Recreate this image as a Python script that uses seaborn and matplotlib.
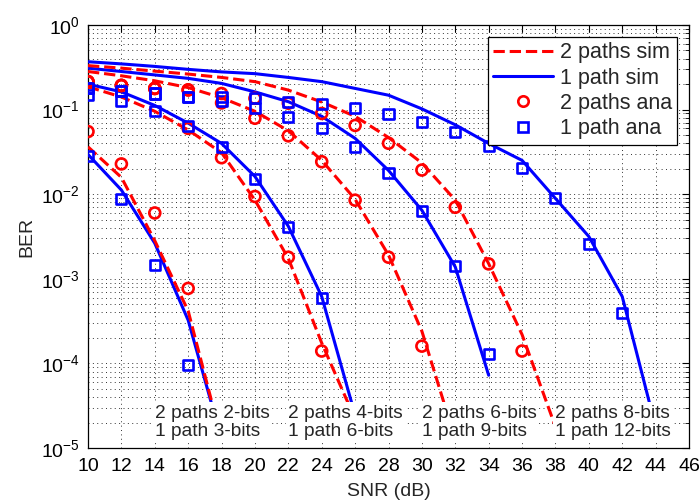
import numpy as np
import pandas as pd
import matplotlib
matplotlib.use("Agg")
import matplotlib.pyplot as plt
import matplotlib.transforms as mtransforms
from matplotlib.lines import Line2D
from matplotlib.ticker import LogLocator, NullFormatter
import seaborn as sns

# ---------------- data ----------------
snr = [10, 12, 14, 16, 18, 20, 22, 24, 26, 28, 30, 32, 34, 36, 38, 40, 42, 44]

# simulated curves (lines)
sim_2p_2bit = [0.0363, 0.0158, 0.00282, 4.17e-4, 1.26e-5]
sim_1p_3bit = [0.0295, 0.0112, 0.00263, 3.24e-4, 1.26e-5]
sim_2p_4bit = [0.186, 0.141, 0.0955, 0.0575, 0.0309, 0.00851, 0.00174, 1.74e-4, 2.2e-5]
sim_1p_6bit = [0.200, 0.162, 0.112, 0.0692, 0.0398, 0.0162, 0.00417, 6.17e-4, 2.45e-5]
sim_2p_6bit = [0.282, 0.251, 0.219, 0.182, 0.138, 0.0955, 0.0562, 0.0251, 0.00871,
               0.00191, 2.40e-4, 1.26e-5]
sim_1p_9bit = [0.309, 0.282, 0.257, 0.234, 0.204, 0.162, 0.124, 0.0832, 0.0457,
               0.0191, 0.00646, 0.00138, 7.24e-5]
sim_2p_8bit = [0.331, 0.309, 0.285, 0.263, 0.240, 0.214, 0.170, 0.123, 0.0832,
               0.0468, 0.0234, 0.00851, 0.00151, 2.19e-4, 1.78e-5]
sim_1p_12bit = [0.368, 0.347, 0.324, 0.299, 0.279, 0.266, 0.240, 0.214, 0.178,
                0.148, 0.102, 0.0661, 0.0398, 0.0251, 0.00891, 0.00316, 6.17e-4, 1.78e-5]

# analytical results (markers)
ana_2p_2bit = [0.055, 0.0228, 0.0060, 7.7e-4]
ana_1p_3bit = [0.0283, 0.0087, 0.00145, 9.7e-5]
ana_2p_4bit = [0.214, 0.193, 0.178, 0.060, 0.027, 0.0094, 0.0018, 1.4e-4]
ana_1p_6bit = [0.150, 0.128, 0.096, 0.064, 0.0360, 0.0150, 0.0041, 5.9e-4]
ana_2p_6bit = [0.214, 0.193, 0.178, 0.171, 0.120, 0.079, 0.049, 0.0242, 0.0085,
               0.0018, 1.6e-4]
ana_1p_9bit = [0.178, 0.166, 0.155, 0.142, 0.125, 0.104, 0.082, 0.060, 0.0365,
               0.018, 0.0064, 0.0014, 1.3e-4]
ana_2p_8bit = [0.214, 0.193, 0.178, 0.171, 0.155, 0.136, 0.119, 0.090, 0.065,
               0.040, 0.0193, 0.0070, 0.0015, 1.4e-4]
ana_1p_12bit = [0.178, 0.166, 0.155, 0.142, 0.140, 0.136, 0.124, 0.115, 0.104,
                0.088, 0.072, 0.054, 0.037, 0.0206, 0.0091, 0.0026, 3.9e-4]

legend_labels = ["2 paths sim", "1 path sim", "2 paths ana", "1 path ana"]
group_texts = ["2 paths 2-bits\n1 path 3-bits", "2 paths 4-bits\n1 path 6-bits",
               "2 paths 6-bits\n1 path 9-bits", "2 paths 8-bits\n1 path 12-bits"]
group_text_x = [14, 22, 30, 38]
xticks = list(range(10, 47, 2))

# ---------------- style ----------------
sns.set_style("white")
plt.rcParams["font.family"] = ["Liberation Sans", "DejaVu Sans"]
plt.rcParams["mathtext.fontset"] = "custom"
plt.rcParams["mathtext.rm"] = "Liberation Sans"
plt.rcParams["mathtext.it"] = "Liberation Sans:italic"

RED = "#ff0000"
BLUE = "#0000ff"

fig = plt.figure(figsize=(6.99, 5.0), dpi=100)
ax = fig.add_axes([0.1259, 0.104, 0.8598, 0.846])

sims_red = [sim_2p_2bit, sim_2p_4bit, sim_2p_6bit, sim_2p_8bit]
sims_blue = [sim_1p_3bit, sim_1p_6bit, sim_1p_9bit, sim_1p_12bit]
anas_red = [ana_2p_2bit, ana_2p_4bit, ana_2p_6bit, ana_2p_8bit]
anas_blue = [ana_1p_3bit, ana_1p_6bit, ana_1p_9bit, ana_1p_12bit]

for r, b in zip(sims_red, sims_blue):
    sns.lineplot(x=snr[:len(b)], y=b, color=BLUE, linewidth=2.2,
                 estimator=None, ax=ax, zorder=3)
    sns.lineplot(x=snr[:len(r)], y=r, color=RED, linewidth=2.2, linestyle="--",
                 dashes=False, estimator=None, ax=ax, zorder=3)

for r, b in zip(anas_red, anas_blue):
    sns.scatterplot(x=snr[:len(r)], y=r, marker="o", s=62, facecolor="none",
                    edgecolor=RED, linewidth=1.9, ax=ax, zorder=4)
    sns.scatterplot(x=snr[:len(b)], y=b, marker="s", s=52, facecolor="none",
                    edgecolor=BLUE, linewidth=1.9, ax=ax, zorder=4)

ax.set_yscale("log")
ax.set_xlim(10, 46)
ax.set_ylim(1e-5, 1)
ax.set_xticks(xticks)
ax.set_xticklabels([str(t) for t in xticks])
ax.yaxis.set_major_locator(LogLocator(base=10, numticks=10))
ax.yaxis.set_minor_locator(LogLocator(base=10, subs=np.arange(2, 10), numticks=100))
ax.yaxis.set_minor_formatter(NullFormatter())

ax.tick_params(axis="both", which="both", direction="in", top=True, right=True,
               labelsize=14, colors="black")
ax.tick_params(which="major", length=5, width=0.8)
ax.tick_params(which="minor", length=3, width=0.6)
ax.tick_params(axis="x", pad=7)
ax.tick_params(axis="y", pad=6)

grid_kw = dict(color="#333333", linewidth=0.7, linestyle=(0, (1, 3.5)))
ax.grid(True, which="major", axis="both", **grid_kw)
ax.grid(True, which="minor", axis="y", **grid_kw)
ax.set_axisbelow(True)

for s in ax.spines.values():
    s.set_color("black")
    s.set_linewidth(0.9)
    s.set_visible(True)

ax.set_xlabel("SNR (dB)", fontsize=14, labelpad=6)
ax.set_ylabel("BER", fontsize=14, labelpad=4)

trans = mtransforms.blended_transform_factory(ax.transData, ax.transAxes)
for i, (tx, txt) in enumerate(zip(group_text_x, group_texts)):
    ax.text(tx, 0.018, txt, transform=trans, ha="left", va="bottom", fontsize=13.8,
            linespacing=1.1, zorder=10 + i,
            bbox=dict(facecolor="white", edgecolor="none", pad=2.0))

handles = [
    Line2D([], [], color=RED, linestyle="--", linewidth=2.2),
    Line2D([], [], color=BLUE, linestyle="-", linewidth=2.2),
    Line2D([], [], color=RED, marker="o", linestyle="none", markersize=7.5,
           markerfacecolor="none", markeredgewidth=1.9),
    Line2D([], [], color=BLUE, marker="s", linestyle="none", markersize=7,
           markerfacecolor="none", markeredgewidth=1.9),
]
leg = ax.legend(handles, legend_labels, loc="upper right", fontsize=15.5,
                frameon=True, fancybox=False, edgecolor="black", framealpha=1,
                handlelength=2.8, handletextpad=0.3, labelspacing=0.2,
                borderpad=0.25, borderaxespad=0.55)
leg.get_frame().set_linewidth(0.9)
leg.set_zorder(20)

fig.savefig("out.png", dpi=100)
